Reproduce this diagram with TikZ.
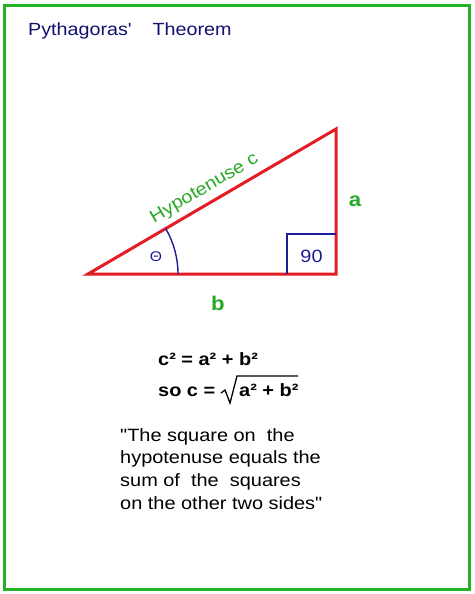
\documentclass[tikz,border=0pt]{standalone}
\usepackage{fontspec}
\setmainfont{Liberation Sans}[FakeStretch=1.12, Ligatures=TeXOff]
\usetikzlibrary{positioning, calc}
\definecolor{framegreen}{RGB}{36,178,36}
\definecolor{labelgreen}{RGB}{38,168,38}
\definecolor{trired}{RGB}{228,28,36}
\definecolor{titlenavy}{RGB}{16,16,110}
\definecolor{marknavy}{RGB}{28,28,150}
\tikzset{side/.style={draw=trired, line width=3pt, line join=miter},
         marker/.style={draw=marknavy, line width=1.4pt},
         sidelabel/.style={text=labelgreen, inner sep=0pt,
           font=\fontsize{19.8}{22}\selectfont\bfseries},
         formula/.style={anchor=base west, inner sep=0pt,
           font=\fontsize{17.8}{20}\selectfont\bfseries}}

\begin{document}
\begin{tikzpicture}[x=1pt, y=-1pt]
    \useasboundingbox (0,0) rectangle (474,594);
    \draw[framegreen, line width=3pt] (4,6) rectangle (469,589);
    \node[anchor=base west, inner sep=0pt, text=titlenavy,
          font=\fontsize{17.6}{20}\selectfont] (title) at (28,36)
          {Pythagoras'\hspace{21pt}Theorem};

    % the triangle
    \coordinate (A) at (88,274);
    \coordinate (B) at (336,274);
    \coordinate (C) at (336,129);
    \draw[side] (A) -- (B) -- (C) -- cycle;
    \draw[marker] ($(B)+(-49,0)$) |- ($(B)+(0,-40)$);
    \draw[marker] ($(A)+(90,0)$) arc[start angle=0, end angle=-30.3, radius=90];
    \node[text=marknavy, inner sep=0pt, font=\fontsize{14}{16}\selectfont] (theta) at (156,257) {Θ};
    \node[text=marknavy, inner sep=0pt, font=\fontsize{17.8}{20}\selectfont] (right) at (311.5,256) {90};

    \path (A) -- (C) node[midway, sloped, above, inner sep=6.5pt, text=labelgreen,
          font=\fontsize{17.8}{20}\selectfont] (hyp) {Hypotenuse c};
    \node[sidelabel] (a) at (355,201.5) {a};
    \node[sidelabel] (b) at (218,303.5) {b};

    % formulas
    \node[formula] (eq1) at (158,365) {c² = a² + b²};
    \node[formula] (eq2) at (158,396) {so c =};
    \node[formula] (rad) at (239,396) {a² + b²};
    \draw[line width=1.3pt, line join=miter] (221,393) -- (225,390) -- (230,403) -- (237,376) -- (298,376);

    % the quote
    \node[anchor=north west, inner sep=0pt, align=left,
          font=\fontsize{17.8}{22.7}\selectfont] (quote) at (120,428)
          {"The square on\ \ the\\hypotenuse equals the\\sum of\ \ the\ \ squares\\on the other two sides"};
\end{tikzpicture}
\end{document}
